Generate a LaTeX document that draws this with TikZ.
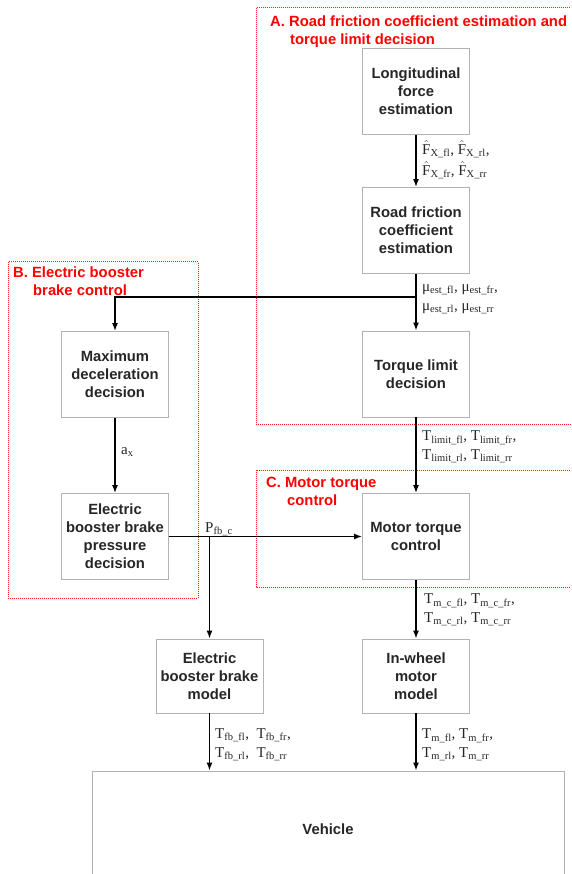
\documentclass[tikz,border=0pt]{standalone}
\usepackage{fontspec}
\setmainfont{Liberation Serif}
\setsansfont{Liberation Sans}
\usetikzlibrary{arrows.meta}

\begin{document}
\begin{tikzpicture}[
	x=1pt, y=-1pt,
	box/.style={
		draw=black!30,
		line width=0.8pt,
		align=center,
		minimum width=107pt,
		minimum height=86pt,
		text=black!85,
		font=\sffamily\bfseries\fontsize{14.8}{18}\selectfont
	},
	region/.style={
		draw=red!90!white,
		densely dotted,
		line width=1pt
	},
	title/.style={
		anchor=north west,
		inner sep=0pt,
		align=left,
		text=red,
		font=\sffamily\bfseries\fontsize{14.8}{18}\selectfont
	},
	signal/.style={
		anchor=west,
		inner sep=0pt,
		align=left,
		text=black!85,
		font=\fontsize{15}{19}\selectfont
	},
	arrow/.style={
		-{Latex[length=8pt,width=6pt]},
		line width=1.4pt
	}
	]
	
	\clip (0,0) rectangle (571,874);
	
	% Control blocks
	\draw[region] (256,8) rectangle (590,424);
	\node[title] (title_a) at (270,16)
	{A. Road friction coefficient estimation and\\\hspace*{20pt}torque limit decision};
	
	\draw[region] (8,262) rectangle (198,598);
	\node[title] (title_b) at (13,267)
	{B. Electric booster\\\hspace*{20pt}brake control};
	
	\draw[region] (256,470) rectangle (590,587);
	\node[title] (title_c) at (266,477)
	{C. Motor torque\\\hspace*{21pt}control};
	
	% Estimation branch
	\node[box] (force_est) at (416,91.5)
	{Longitudinal\\force\\estimation};
	
	\node[box] (friction_est) at (416,230.5)
	{Road friction\\coefficient\\estimation};
	
	\node[box] (torque_limit) at (416,374)
	{Torque limit\\decision};
	
	% Brake branch
	\node[box] (max_decel) at (115,374.5)
	{Maximum\\deceleration\\decision};
	
	\node[box] (brake_pressure) at (115,536.5)
	{Electric\\booster brake\\pressure\\decision};
	
	% Motor branch
	\node[box] (motor_control) at (416,536.5)
	{Motor torque\\control};
	
	% Plant
	\node[box, minimum height=74pt] (brake_model) at (209.5,676)
	{Electric\\booster brake\\model};
	
	\node[box, minimum height=74pt] (motor_model) at (416,676)
	{In-wheel\\motor\\model};
	
	\node[box, minimum width=472pt, minimum height=116pt] (vehicle) at (328,829)
	{Vehicle};
	
	% Branch points
	\coordinate (mu_split) at (416,297);
	\coordinate (p_split) at (209.5,536.5);
	
	% Arrows
	\draw[arrow] (force_est) -- (friction_est);
	\draw[arrow] (friction_est) -- (torque_limit);
	\draw[arrow] (mu_split) -| (max_decel.north);
	\draw[arrow] (max_decel) -- (brake_pressure);
	\draw[arrow] (brake_pressure) -- (motor_control);
	\draw[arrow] (p_split) -- (brake_model);
	\draw[arrow] (torque_limit) -- (motor_control);
	\draw[arrow] (motor_control) -- (motor_model);
	\draw[arrow] (brake_model) -- (brake_model.south |- vehicle.north);
	\draw[arrow] (motor_model) -- (motor_model.south |- vehicle.north);
	
	% Signals
	\node[signal, font=\fontsize{15}{21}\selectfont] (f_hat) at (422,160)
	{$\hat{\mathrm{F}}$\textsubscript{X\_fl}, $\hat{\mathrm{F}}$\textsubscript{X\_rl},\\
	 $\hat{\mathrm{F}}$\textsubscript{X\_fr}, $\hat{\mathrm{F}}$\textsubscript{X\_rr}};
	
	\node[signal] (mu_est) at (422,299)
	{μ\textsubscript{est\_fl}, μ\textsubscript{est\_fr},\\
	 μ\textsubscript{est\_rl}, μ\textsubscript{est\_rr}};
	
	\node[signal] (t_limit) at (422,447)
	{T\textsubscript{limit\_fl}, T\textsubscript{limit\_fr},\\
	 T\textsubscript{limit\_rl}, T\textsubscript{limit\_rr}};
	
	\node[signal] (t_mc) at (424,610)
	{T\textsubscript{m\_c\_fl}, T\textsubscript{m\_c\_fr},\\
	 T\textsubscript{m\_c\_rl}, T\textsubscript{m\_c\_rr}};
	
	\node[signal] (t_fb) at (215,745)
	{T\textsubscript{fb\_fl},\ \ T\textsubscript{fb\_fr},\\
	 T\textsubscript{fb\_rl},\ \ T\textsubscript{fb\_rr}};
	
	\node[signal] (t_m) at (422,745)
	{T\textsubscript{m\_fl}, T\textsubscript{m\_fr},\\
	 T\textsubscript{m\_rl}, T\textsubscript{m\_rr}};
	
	\node[signal] (a_x) at (121,452)
	{a\textsubscript{x}};
	
	\node[signal, anchor=base west] (p_fb) at (205,532)
	{P\textsubscript{fb\_c}};
	
\end{tikzpicture}
\end{document}
